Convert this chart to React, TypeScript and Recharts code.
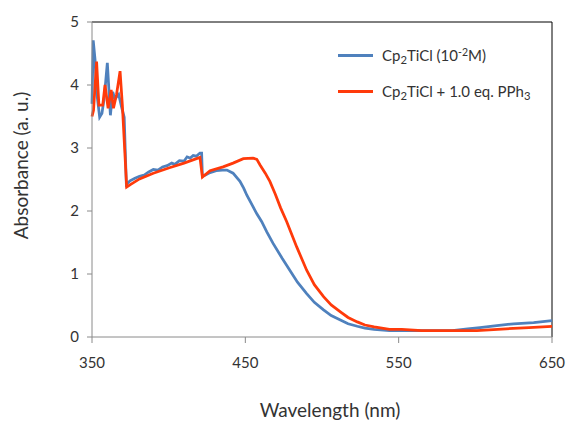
import React from "react";
import {
  Legend,
  Line,
  LineChart,
  ReferenceLine,
  XAxis,
  YAxis,
} from "recharts";

// Cp2TiCl (10^-2 M) spectrum
const baseNm = [
  350, 350.8, 352, 353, 355, 356.5, 358, 360, 362, 363.5, 365, 367.4, 369.5,
  371, 372.4, 374.8, 378, 381, 384, 387, 390, 393, 396, 399, 402, 404, 407,
  410, 412, 414, 416, 418, 420.4, 421.5, 422, 424, 427, 431, 435, 438, 442,
  446.5, 449, 451, 455, 457.4, 460.7, 464, 468, 474, 479, 484, 490, 495, 501,
  506, 512, 517, 523, 528, 534, 544, 555, 570, 585, 595, 603, 614, 625, 638,
  650,
];
const baseAbs = [
  3.7, 4.71, 4.4, 3.9, 3.49, 3.55, 3.8, 4.35, 3.52, 3.89, 3.78, 3.85, 3.63,
  3.49, 2.42, 2.48, 2.52, 2.55, 2.57, 2.62, 2.66, 2.65, 2.7, 2.72, 2.76, 2.74,
  2.8, 2.79, 2.86, 2.84, 2.88, 2.87, 2.92, 2.92, 2.55, 2.57, 2.61, 2.64, 2.65,
  2.65, 2.6, 2.47, 2.36, 2.25, 2.07, 1.96, 1.83, 1.67, 1.49, 1.25, 1.06, 0.87,
  0.69, 0.55, 0.43, 0.34, 0.27, 0.21, 0.17, 0.14, 0.12, 0.1, 0.1, 0.1, 0.1,
  0.13, 0.15, 0.18, 0.21, 0.23, 0.26,
];

// Cp2TiCl + 1.0 eq. PPh3 spectrum
const pphNm = [
  350, 351, 353, 354.5, 357, 358.5, 360.5, 362.5, 364, 366, 368.3, 369.8,
  372.6, 375, 381, 390, 401, 410, 420.4, 422, 427, 435.5, 442, 448.7, 455,
  457.5, 459.6, 463, 466, 469.5, 473, 477, 483.5, 490, 495, 501, 506, 512,
  517, 523, 528, 534, 544, 552, 565, 601, 620, 635, 650,
];
const pphAbs = [
  3.5, 3.6, 4.37, 3.68, 3.68, 4.0, 3.63, 3.92, 3.63, 3.85, 4.22, 3.68, 2.38,
  2.42, 2.51, 2.6, 2.69, 2.76, 2.85, 2.54, 2.64, 2.7, 2.76, 2.83, 2.84, 2.82,
  2.73, 2.6, 2.47, 2.27, 2.05, 1.83, 1.43, 1.06, 0.83, 0.64, 0.51, 0.4, 0.31,
  0.24, 0.19, 0.16, 0.12, 0.12, 0.1, 0.1, 0.13, 0.15, 0.17,
];

const xTicks = [350, 450, 550, 650];
const yTicks = [0, 1, 2, 3, 4, 5];

const BLUE = "#4f81bd";
const RED = "#ff3a0a";
const FONT = "Lato, 'Open Sans', sans-serif";
const TEXT = "#333";

const baseData = baseNm.map((nm, i) => ({ nm, abs: baseAbs[i] }));
const pphData = pphNm.map((nm, i) => ({ nm, abs: pphAbs[i] }));

function SpectrumLegend() {
  const row = (color: string, label: React.ReactNode, top: number) => (
    <div
      style={{
        position: "absolute",
        top,
        left: 0,
        display: "flex",
        alignItems: "center",
        whiteSpace: "nowrap",
      }}
    >
      <div style={{ width: 35, height: 3, background: color, marginRight: 9 }} />
      <span>{label}</span>
    </div>
  );
  const sub = { fontSize: "0.75em", verticalAlign: "-0.25em" };
  const sup = { fontSize: "0.7em", verticalAlign: "0.45em" };
  return (
    <div
      style={{
        position: "relative",
        width: 220,
        height: 60,
        fontFamily: FONT,
        fontSize: 15,
        color: TEXT,
      }}
    >
      {row(
        BLUE,
        <>
          Cp<span style={sub}>2</span>TiCl (10<span style={sup}>-2</span>M)
        </>,
        0
      )}
      {row(
        RED,
        <>
          Cp<span style={sub}>2</span>TiCl + 1.0 eq. PPh<span style={sub}>3</span>
        </>,
        36
      )}
    </div>
  );
}

export default function App() {
  return (
    <div style={{ position: "fixed", top: 0, left: 0, background: "#fff" }}>
      <LineChart
        width={566}
        height={421}
        margin={{ top: 22, right: 14, bottom: 0, left: 0 }}
      >
        <XAxis
          dataKey="nm"
          type="number"
          domain={[350, 650]}
          ticks={xTicks}
          allowDuplicatedCategory={false}
          stroke="#8a8a8a"
          tickSize={6}
          tickMargin={14}
          height={84}
          tick={{ fill: TEXT, fontSize: 15, fontFamily: FONT }}
          label={{
            value: "Wavelength (nm)",
            position: "insideBottom",
            offset: 4,
            dx: 8,
            style: { fill: TEXT, fontSize: 19, fontFamily: FONT },
          }}
        />
        <YAxis
          type="number"
          domain={[0, 5]}
          ticks={yTicks}
          stroke="#8a8a8a"
          tickSize={5}
          tickMargin={8}
          width={92}
          tick={{ fill: TEXT, fontSize: 15, fontFamily: FONT }}
          label={{
            value: "Absorbance (a. u.)",
            angle: -90,
            position: "insideLeft",
            offset: 21,
            dy: -14,
            style: {
              fill: TEXT,
              fontSize: 19,
              fontFamily: FONT,
              textAnchor: "middle",
            },
          }}
        />
        <ReferenceLine y={5} stroke="#000" strokeWidth={1} />
        <ReferenceLine x={650} stroke="#000" strokeWidth={1} />
        <Line
          data={baseData}
          dataKey="abs"
          stroke={BLUE}
          strokeWidth={2.75}
          dot={false}
          isAnimationActive={false}
        />
        <Line
          data={pphData}
          dataKey="abs"
          stroke={RED}
          strokeWidth={2.75}
          dot={false}
          isAnimationActive={false}
        />
        <Legend
          layout="horizontal"
          verticalAlign="middle"
          align="center"
          content={() => <SpectrumLegend />}
          wrapperStyle={{ top: 46, left: 338, width: 225 }}
        />
      </LineChart>
    </div>
  );
}
